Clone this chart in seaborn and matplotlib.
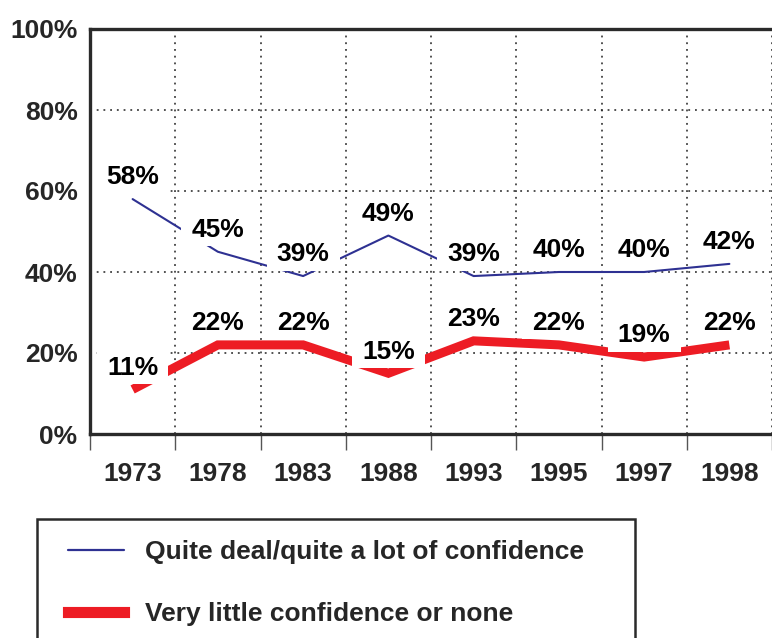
import matplotlib
matplotlib.use("Agg")
import matplotlib.pyplot as plt
import seaborn as sns
import pandas as pd
from matplotlib.lines import Line2D
from matplotlib.patches import Rectangle
from matplotlib.path import Path
from matplotlib.ticker import FixedLocator

years = ["1973", "1978", "1983", "1988", "1993", "1995", "1997", "1998"]
confidence_high = [58, 45, 39, 49, 39, 40, 40, 42]
confidence_low = [11, 22, 22, 15, 23, 22, 19, 22]
series_names = ["Quite deal/quite a lot of confidence", "Very little confidence or none"]
y_ticks = [0, 20, 40, 60, 80, 100]

BLUE = "#2E3192"
RED = "#ED1C24"
FONT = ["Liberation Sans", "DejaVu Sans"]
FS = 19

sns.set_theme(style="white")
plt.rcParams["font.family"] = FONT
plt.rcParams["font.weight"] = "bold"

df = pd.DataFrame({"year": years * 2,
                   "value": confidence_high + confidence_low,
                   "series": [series_names[0]] * len(years) + [series_names[1]] * len(years)})

fig = plt.figure(figsize=(7.72, 6.38), dpi=100)
ax = fig.add_axes([90 / 772, 1 - 434 / 638, 682 / 772, 405 / 638])

sns.lineplot(data=df[df.series == series_names[0]], x="year", y="value", sort=False,
             color=BLUE, linewidth=1.5, ax=ax, zorder=3, legend=False)
sns.lineplot(data=df[df.series == series_names[1]], x="year", y="value", sort=False,
             color=RED, linewidth=6.5, ax=ax, zorder=3, legend=False,
             solid_capstyle="butt", solid_joinstyle="miter")

ax.set_xlim(-0.5, len(years) - 0.5)
ax.set_ylim(0, 100)
ax.set_xlabel("")
ax.set_ylabel("")

ax.set_yticks(y_ticks)
ax.set_yticklabels([f"{v}%" for v in y_ticks], fontsize=FS, fontweight="bold")
ax.set_xticks(range(len(years)))
ax.set_xticklabels(years, fontsize=FS, fontweight="bold")
ax.xaxis.set_minor_locator(FixedLocator([i - 0.5 for i in range(len(years) + 1)]))

ax.tick_params(axis="x", which="major", length=0, pad=20.5)
ax.tick_params(axis="x", which="minor", length=11.5, width=1.0, color="#555555", direction="out", bottom=True)
ax.tick_params(axis="y", which="both", length=0, pad=9)

grid_kw = dict(color="#222222", linewidth=1.1, linestyle=(0, (1.2, 3.2)))
ax.grid(False)
ax.xaxis.grid(True, which="minor", **grid_kw)
ax.yaxis.grid(True, which="major", **grid_kw)
ax.set_axisbelow(True)

for side in ["left", "bottom", "top"]:
    ax.spines[side].set_visible(True)
    ax.spines[side].set_color("#2a2a2a")
    ax.spines[side].set_linewidth(2.4)
ax.spines["right"].set_visible(False)


def label_box(x0, y0, width, height, mutation_size):
    px = 0.38 * mutation_size
    py = 0.16 * mutation_size
    verts = [(x0 - px, y0 - py), (x0 + width + px, y0 - py),
             (x0 + width + px, y0 + height + py), (x0 - px, y0 + height + py),
             (x0 - px, y0 - py)]
    return Path(verts, closed=True)


box = dict(boxstyle=label_box, fc="white", ec="none")
for i, (h, l) in enumerate(zip(confidence_high, confidence_low)):
    for v in (h, l):
        ax.annotate(f"{v}%", xy=(i, v), xytext=(0, 10.6), textcoords="offset points",
                    ha="center", va="baseline", fontsize=FS, fontweight="bold",
                    color="black", bbox=box, zorder=5)

# legend frame
fig.patches.append(Rectangle((37 / 772, -0.05), (635 - 37) / 772, (1 - 519 / 638) + 0.05,
                             transform=fig.transFigure, fill=False, ec="#2a2a2a", lw=1.8))
handles = [Line2D([], [], color=BLUE, lw=1.6),
           Line2D([], [], color=RED, lw=8, solid_capstyle="projecting")]
leg = fig.legend(handles, series_names, loc="upper left",
                 bbox_to_anchor=(68 / 772, 1 - 540 / 638), frameon=False,
                 prop=dict(family=FONT, weight="bold", size=FS),
                 handlelength=2.12, handletextpad=0.8, labelspacing=1.45,
                 borderpad=0, borderaxespad=0)

fig.savefig("out.png", dpi=100)
